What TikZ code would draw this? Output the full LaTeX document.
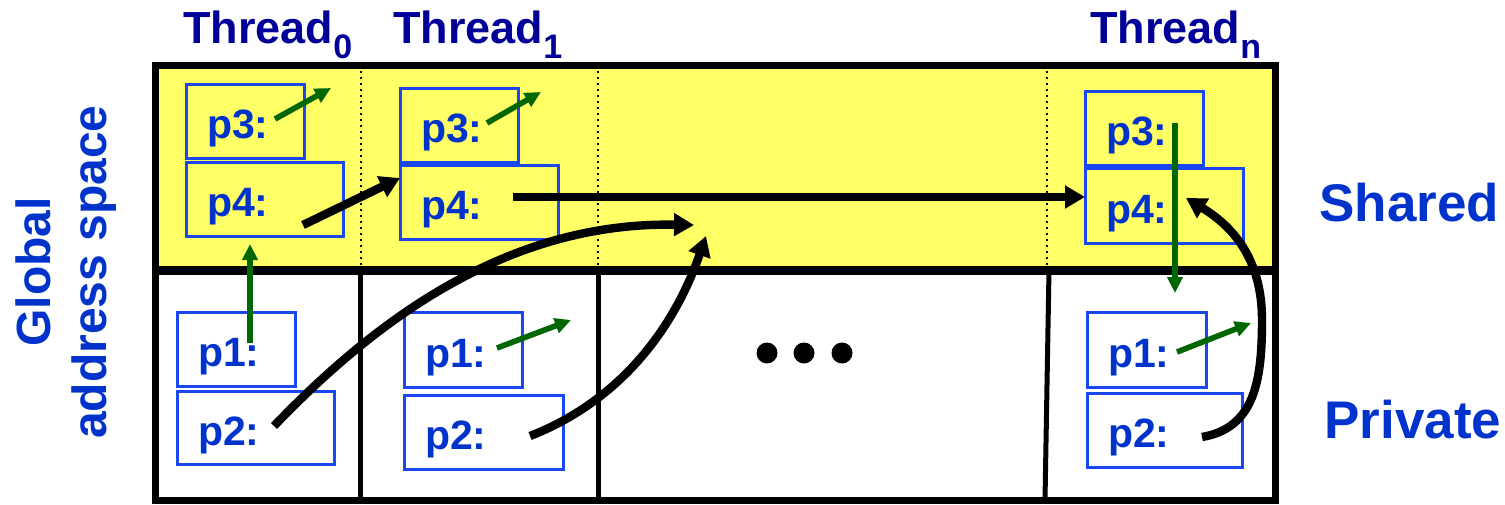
\documentclass[tikz,border=0pt]{standalone}
\usepackage{fontspec}
\setmainfont{Liberation Sans}
\usetikzlibrary{arrows.meta,calc}
\definecolor{ylw}{HTML}{FFFF66}
\definecolor{pblue}{HTML}{0033CC}
\definecolor{boxblue}{HTML}{1A47F0}
\definecolor{navy}{HTML}{000099}
\definecolor{dgreen}{HTML}{006600}
\newcommand\thsub[1]{\raisebox{-7.5pt}{\fontsize{17}{17}\selectfont #1}}
\newcommand\pbx[6]{%
  \pgfmathsetlengthmacro\pbxw{(#4-#2)*0.5pt}%
  \pgfmathsetlengthmacro\pbxh{(#5-#3)*0.5pt}%
  \pgfmathsetlengthmacro\pbxt{(#4-#2)*0.5pt-21pt}%
  \node[pbox, minimum width=\pbxw, minimum height=\pbxh, text width=\pbxt] (#1) at ({(#2+#4)/2},{(#3+#5)/2}) {#6};}
\tikzset{
  pbox/.style={draw=boxblue, line width=1.5pt, text=pblue,
    font=\fontsize{20.5}{24}\selectfont\bfseries, inner xsep=10.5pt, inner ysep=0pt,
    text height=17.5pt, text depth=0pt, align=left, outer sep=0pt},
  thlbl/.style={text=navy, font=\fontsize{22.5}{26}\selectfont\bfseries, inner sep=0pt, anchor=base west},
  side/.style={text=pblue, font=\fontsize{26.5}{30}\selectfont\bfseries, inner sep=0pt, anchor=base west},
  blk/.style={line width=4.2pt, -{Triangle[length=10pt,width=11pt]}},
  grn/.style={draw=dgreen, line width=2.8pt, -{Triangle[length=8pt,width=7.5pt]}, color=dgreen},
  dotn/.style={circle, fill=black, minimum size=10.5pt, inner sep=0pt},
}
\begin{document}
\begin{tikzpicture}[x=0.5pt,y=-0.5pt]
\useasboundingbox (0,0) rectangle (1505,504);
% regions
\fill[ylw] (155,65) rectangle (1275,270);
\foreach \xx in {361,598,1047} \draw[dotted, line width=1pt] (\xx,65) -- (\xx,270);
\draw[line width=2.5pt] (360,270) -- (360,500);
\draw[line width=2.5pt] (598,270) -- (598,500);
\draw[line width=2.5pt] (1049,270) -- (1045,500);
\draw[line width=4.5pt] (155,270) -- (1275,270);
\draw[line width=3.5pt] (155,65) rectangle (1275,500);
% labels
\node[thlbl] (th0) at (183,43) {Thread\thsub{0}};
\node[thlbl] (th1) at (393,43) {Thread\thsub{1}};
\node[thlbl] (thn) at (1090,43) {Thread\thsub{n}};
\node[side] (shared) at (1319,221) {Shared};
\node[side] (private) at (1324,438) {Private};
\node[text=pblue, font=\fontsize{24}{28}\selectfont\bfseries, align=center, rotate=90, inner sep=0pt] (gas) at (66,272) {Global\\address space};
% boxes
\pbx{aP3}{186}{84}{304}{158}{p3:}
\pbx{aP4}{186}{162}{343}{236}{p4:}
\pbx{aP1}{177}{312}{295}{386}{p1:}
\pbx{aP2}{177}{391}{334}{464}{p2:}
\pbx{bP3}{400}{88}{518}{162}{p3:}
\pbx{bP4}{400}{165}{558}{239}{p4:}
\pbx{bP1}{404}{312}{522}{387}{p1:}
\pbx{bP2}{404}{395}{563}{469}{p2:}
\pbx{nP3}{1085}{91}{1203}{165}{p3:}
\pbx{nP4}{1085}{168}{1243}{243}{p4:}
\pbx{nP1}{1087}{312}{1206}{387}{p1:}
\pbx{nP2}{1087}{393}{1242}{467}{p2:}
% dots
\node[dotn] (d1) at (767,353) {};
\node[dotn] (d2) at (804,353) {};
\node[dotn] (d3) at (842,353) {};
% end points
\coordinate (a3s) at (275,119);
\coordinate (a3e) at (331,88);
\coordinate (b3s) at (487,123);
\coordinate (b3e) at (541,92);
\coordinate (a1s) at (250,343);
\coordinate (a1e) at (250,244);
\coordinate (b1s) at (497,348);
\coordinate (b1e) at (571,320);
\coordinate (n3s) at (1175,123);
\coordinate (n3e) at (1175,293);
\coordinate (n1s) at (1177,352);
\coordinate (n1e) at (1251,323);
\coordinate (a4s) at (303,225);
\coordinate (b4t) at (400,178);
\coordinate (b4s) at (513,197);
\coordinate (n4t) at (1085,197);
\coordinate (a2s) at (274,426);
\coordinate (m1) at (694,225);
\coordinate (b2s) at (530,436);
\coordinate (m2) at (706,236);
\coordinate (n2s) at (1202,437);
\coordinate (n4h) at (1186,198);
% green arrows
\draw[grn] (a3s) -- (a3e);
\draw[grn] (b3s) -- (b3e);
\draw[grn] (a1s) -- (a1e);
\draw[grn] (b1s) -- (b1e);
\draw[grn] (n3s) -- (n3e);
\draw[grn] (n1s) -- (n1e);
% black arrows
\draw[blk] (a4s) -- (b4t);
\draw[blk] (b4s) -- (n4t);
\draw[blk] (a2s) .. controls (390,305) and (520,222) .. (m1);
\draw[blk] (b2s) .. controls (610,405) and (670,340) .. (m2);
\draw[blk] (n2s) .. controls (1255,428) and (1262,380) .. (1262,320) .. controls (1262,258) and (1232,226) .. (n4h);
\end{tikzpicture}
\end{document}
